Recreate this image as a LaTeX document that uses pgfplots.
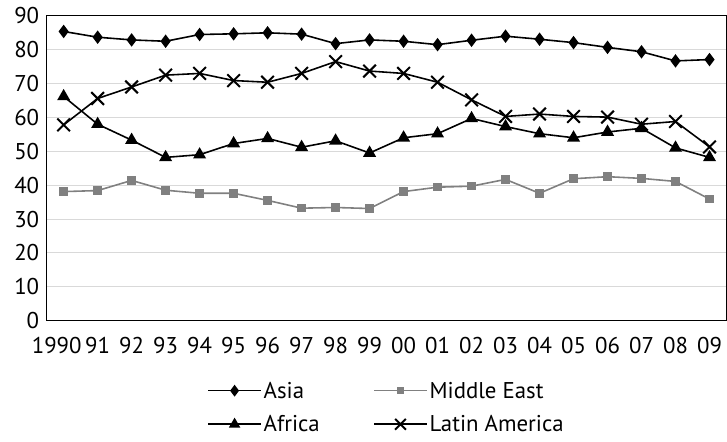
\documentclass[border=0pt]{standalone}
\usepackage{fontspec}
\setmainfont{PT Sans}
\usepackage{pgfplots}
\pgfplotsset{compat=1.18}
\begin{document}
\begin{tikzpicture}
\begin{axis}[name=ax, scale only axis, width=685pt, height=307pt,
 xmin=-0.5, xmax=19.5, ymin=0, ymax=90, ytick={0,10,...,90},
 xtick={0,...,19},
 xticklabels={\hspace*{-14pt}1990,91,92,93,94,95,96,97,98,99,00,01,02,03,04,05,06,07,08,09},
 ymajorgrids, grid style={draw=black!15, line width=1pt},
 axis line style={black, line width=1pt},
 major tick length=0pt,
 tick label style={font=\fontsize{23}{27}\selectfont},
 /pgf/number format/assume math mode=true,
 yticklabel style={xshift=-4pt},
 xticklabel style={yshift=-13pt},
 legend columns=2,
 legend style={draw=none, at={(0.5,0)}, anchor=north, yshift=-61pt,
   font=\fontsize{23}{27}\selectfont, inner sep=0pt,
   nodes={inner ysep=0.5pt},
   /tikz/every even column/.append style={column sep=52pt},
   row sep=15pt},
 legend cell align=left,
 legend image code/.code={\draw[mark repeat=2,mark phase=2,#1, every mark/.append style={scale=0.85}] plot coordinates {(0pt,0pt)(26.5pt,0pt)(53pt,0pt)};},
 clip=false,
]
\addplot[black, line width=1.6pt, mark=diamond*, mark size=5.5pt] coordinates {
(0,85.4)(1,83.7)(2,82.9)(3,82.5)(4,84.5)(5,84.7)(6,85.0)(7,84.6)(8,81.8)(9,82.9)
(10,82.5)(11,81.5)(12,82.8)(13,84.0)(14,83.1)(15,82.1)(16,80.7)(17,79.4)(18,76.7)(19,77.1)};
\addlegendentry{Asia}
\addplot[color={rgb,255:red,128;green,128;blue,128}, line width=1.6pt, mark=square*, mark size=3.5pt] coordinates {
(0,38.1)(1,38.4)(2,41.4)(3,38.5)(4,37.6)(5,37.6)(6,35.5)(7,33.2)(8,33.4)(9,33.1)
(10,38.1)(11,39.4)(12,39.7)(13,41.7)(14,37.6)(15,41.9)(16,42.5)(17,42.0)(18,41.1)(19,35.9)};
\addlegendentry{Middle East}
\addplot[black, line width=1.6pt, mark=triangle*, mark size=6pt] coordinates {
(0,66.2)(1,58.0)(2,53.3)(3,48.2)(4,49.0)(5,52.3)(6,53.8)(7,51.2)(8,53.1)(9,49.5)
(10,54.0)(11,55.2)(12,59.7)(13,57.3)(14,55.2)(15,54.0)(16,55.7)(17,56.8)(18,51.0)(19,48.2)};
\addlegendentry{Africa}
\addplot[black, line width=1.6pt, mark=x, mark size=9pt, every mark/.append style={line width=2pt}] coordinates {
(0,57.8)(1,65.6)(2,69.0)(3,72.5)(4,73.0)(5,70.9)(6,70.4)(7,73.0)(8,76.5)(9,73.7)
(10,73.0)(11,70.4)(12,65.2)(13,60.3)(14,61.0)(15,60.3)(16,60.1)(17,58.0)(18,58.8)(19,51.3)};
\addlegendentry{Latin America}
\end{axis}
\path ([xshift=-47pt,yshift=-122pt]ax.south west) rectangle ([xshift=-4pt,yshift=16pt]ax.north east);
\end{tikzpicture}
\end{document}
